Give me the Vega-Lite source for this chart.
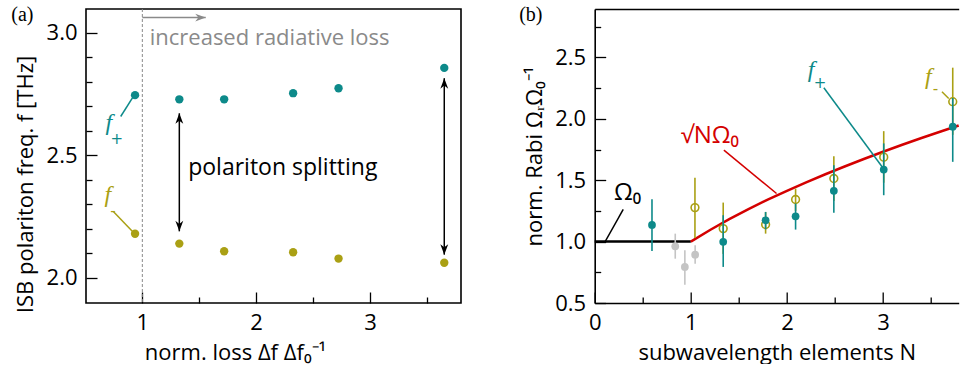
{
  "$schema": "https://vega.github.io/schema/vega-lite/v6.json",
  "padding": {"left": 10, "top": 4, "right": 0, "bottom": 0},
  "bounds": "flush",
  "spacing": 133.7,
  "resolve": {"scale": {"color": "independent"}},
  "config": {
    "font": "Open Sans",
    "view": {"stroke": "black", "strokeWidth": 1.6},
    "axis": {"labelFont": "Open Sans", "titleFont": "Open Sans", "labelFontSize": 22, "titleFontSize": 22, "titleFontWeight": "normal", "labelColor": "black", "titleColor": "black", "tickColor": "black", "tickWidth": 1.3, "grid": false, "domain": false, "labelFlush": false, "labelOverlap": false}
  },
  "datasets": {
    "a_pts": [
      {"loss": 0.936, "f": 2.745, "branch": "plus"},
      {"loss": 1.325, "f": 2.728, "branch": "plus"},
      {"loss": 1.719, "f": 2.728, "branch": "plus"},
      {"loss": 2.325, "f": 2.753, "branch": "plus"},
      {"loss": 2.724, "f": 2.773, "branch": "plus"},
      {"loss": 3.653, "f": 2.856, "branch": "plus"},
      {"loss": 0.936, "f": 2.18, "branch": "minus"},
      {"loss": 1.325, "f": 2.14, "branch": "minus"},
      {"loss": 1.719, "f": 2.109, "branch": "minus"},
      {"loss": 2.325, "f": 2.105, "branch": "minus"},
      {"loss": 2.724, "f": 2.079, "branch": "minus"},
      {"loss": 3.653, "f": 2.062, "branch": "minus"}
    ],
    "a_split": [
      {"loss": 1.325, "top": 2.671, "bottom": 2.19},
      {"loss": 3.653, "top": 2.814, "bottom": 2.095}
    ],
    "a_lossarrow": [{"x1": 1.0, "x2": 1.557, "y": 3.061}],
    "a_leaders": [
      {"x1": 0.81, "y1": 2.658, "x2": 0.927, "y2": 2.744, "branch": "plus"},
      {"x1": 0.745, "y1": 2.271, "x2": 0.918, "y2": 2.187, "branch": "minus"}
    ],
    "a_flabels": [
      {"x": 0.705, "y": 2.63, "t": "f", "branch": "plus"},
      {"x": 0.697, "y": 2.34, "t": "f", "branch": "minus"}
    ],
    "a_fsubs": [
      {"x": 0.775, "y": 2.566, "t": "+", "branch": "plus"},
      {"x": 0.742, "y": 2.272, "t": "-", "branch": "minus"}
    ],
    "a_gray": [{"x": 1.065, "y": 2.977, "t": "increased radiative loss"}],
    "a_black": [{"x": 1.403, "y": 2.448, "t": "polariton splitting"}],
    "a_tag": [{"x": -0.054, "y": 3.07, "t": "(a)"}],
    "a_dash": [{"loss": 1.0}],
    "b_pts": [
      {"N": 0.838, "v": 0.962, "lo": 0.861, "hi": 1.065, "branch": "gray"},
      {"N": 0.938, "v": 0.794, "lo": 0.649, "hi": 0.929, "branch": "gray"},
      {"N": 1.045, "v": 0.894, "lo": 0.82, "hi": 0.97, "branch": "gray"},
      {"N": 1.043, "v": 1.277, "lo": 1.03, "hi": 1.52, "branch": "minus"},
      {"N": 1.337, "v": 1.106, "lo": 0.9, "hi": 1.318, "branch": "minus"},
      {"N": 1.778, "v": 1.139, "lo": 1.065, "hi": 1.24, "branch": "minus"},
      {"N": 2.09, "v": 1.343, "lo": 1.25, "hi": 1.432, "branch": "minus"},
      {"N": 2.488, "v": 1.514, "lo": 1.33, "hi": 1.696, "branch": "minus"},
      {"N": 3.007, "v": 1.688, "lo": 1.48, "hi": 1.9, "branch": "minus"},
      {"N": 3.725, "v": 2.14, "lo": 1.87, "hi": 2.417, "branch": "minus"},
      {"N": 0.596, "v": 1.136, "lo": 0.924, "hi": 1.345, "branch": "plus"},
      {"N": 1.337, "v": 0.998, "lo": 0.794, "hi": 1.215, "branch": "plus"},
      {"N": 1.778, "v": 1.174, "lo": 1.1, "hi": 1.242, "branch": "plus"},
      {"N": 2.09, "v": 1.206, "lo": 1.098, "hi": 1.31, "branch": "plus"},
      {"N": 2.488, "v": 1.414, "lo": 1.236, "hi": 1.622, "branch": "plus"},
      {"N": 3.007, "v": 1.587, "lo": 1.378, "hi": 1.8, "branch": "plus"},
      {"N": 3.725, "v": 1.936, "lo": 1.65, "hi": 2.17, "branch": "plus"}
    ],
    "b_flat": [{"N": 0, "v": 1.0}, {"N": 1, "v": 1.0}],
    "b_sqrt": [
      {"N": 1.0, "v": 1.0}, {"N": 1.2, "v": 1.095}, {"N": 1.4, "v": 1.183}, {"N": 1.6, "v": 1.265},
      {"N": 1.8, "v": 1.342}, {"N": 2.0, "v": 1.414}, {"N": 2.2, "v": 1.483}, {"N": 2.4, "v": 1.549},
      {"N": 2.6, "v": 1.612}, {"N": 2.8, "v": 1.673}, {"N": 3.0, "v": 1.732}, {"N": 3.2, "v": 1.789},
      {"N": 3.4, "v": 1.844}, {"N": 3.6, "v": 1.897}, {"N": 3.787, "v": 1.946}
    ],
    "b_leaders": [
      {"x1": 0.297, "y1": 1.263, "x2": 0.107, "y2": 0.997, "branch": "black"},
      {"x1": 1.344, "y1": 1.745, "x2": 1.892, "y2": 1.392, "branch": "red"},
      {"x1": 2.384, "y1": 2.254, "x2": 2.99, "y2": 1.61, "branch": "plus"},
      {"x1": 3.613, "y1": 2.221, "x2": 3.683, "y2": 2.166, "branch": "minus"}
    ],
    "b_flabels": [
      {"x": 2.25, "y": 2.395, "t": "f", "branch": "plus"},
      {"x": 3.472, "y": 2.342, "t": "f", "branch": "minus"}
    ],
    "b_fsubs": [
      {"x": 2.345, "y": 2.292, "t": "+", "branch": "plus"},
      {"x": 3.545, "y": 2.24, "t": "-", "branch": "minus"}
    ],
    "b_math": [
      {"x": 0.2, "y": 1.4, "t": "Ω₀", "branch": "black"},
      {"x": 0.894, "y": 1.86, "t": "√NΩ₀", "branch": "red"}
    ],
    "b_tag": [{"x": -0.665, "y": 2.843, "t": "(b)"}]
  },
  "hconcat": [
    {
      "width": 375,
      "height": 294,
      "view": {"stroke": "black", "strokeWidth": 1.6},
      "resolve": {"axis": {"x": "independent", "y": "independent"}},
      "layer": [
        {
          "data": {"name": "a_dash"},
          "mark": {"type": "rule", "color": "#8a8a8a", "strokeDash": [3, 2], "strokeWidth": 1},
          "encoding": {
            "x": {"field": "loss", "type": "quantitative", "scale": {"domain": [0.505, 3.8], "nice": false, "zero": false}, "axis": null}
          }
        },
        {
          "data": {"name": "a_pts"},
          "mark": {"type": "point", "filled": true, "size": 70, "opacity": 1},
          "encoding": {
            "x": {"field": "loss", "type": "quantitative", "scale": {"domain": [0.505, 3.8], "nice": false, "zero": false},
              "axis": {"orient": "bottom", "values": [1, 2, 3], "tickSize": -11, "labelPadding": 20, "title": "norm. loss Δf Δf₀⁻¹", "titlePadding": 9, "titleX": 149}},
            "y": {"field": "f", "type": "quantitative", "scale": {"domain": [1.898, 3.096], "nice": false, "zero": false},
              "axis": {"orient": "left", "values": [2, 2.5, 3], "format": ".1f", "tickSize": -11, "labelPadding": 20, "title": "ISB polariton freq. f [THz]", "titlePadding": 9, "titleY": 175}},
            "color": {"field": "branch", "type": "nominal", "scale": {"domain": ["plus", "minus"], "range": ["#0d8a8a", "#aaa014"]}, "legend": null}
          }
        },
        {
          "data": {"name": "a_split"},
          "mark": {"type": "rule", "color": "black", "strokeWidth": 1.5},
          "encoding": {
            "x": {"field": "loss", "type": "quantitative", "scale": {"domain": [0.505, 3.8], "nice": false, "zero": false},
              "axis": {"orient": "bottom", "values": [1.5, 2.5, 3.5], "tickSize": -6, "labels": false, "title": null}},
            "y": {"field": "top", "type": "quantitative", "scale": {"domain": [1.898, 3.096], "nice": false, "zero": false},
              "axis": {"orient": "left", "values": [2.1, 2.2, 2.3, 2.4, 2.6, 2.7, 2.8, 2.9], "tickSize": -6, "labels": false, "title": null}},
            "y2": {"field": "bottom"}
          }
        },
        {
          "data": {"name": "a_split"},
          "mark": {"type": "point", "filled": true, "opacity": 1, "color": "black", "size": 110, "shape": "M0,0L-0.75,2L0,1.4L0.75,2Z"},
          "encoding": {
            "x": {"field": "loss", "type": "quantitative", "scale": {"domain": [0.505, 3.8], "nice": false, "zero": false}, "axis": null},
            "y": {"field": "top", "type": "quantitative", "scale": {"domain": [1.898, 3.096], "nice": false, "zero": false}, "axis": null}
          }
        },
        {
          "data": {"name": "a_split"},
          "mark": {"type": "point", "filled": true, "opacity": 1, "color": "black", "size": 110, "shape": "M0,0L-0.75,-2L0,-1.4L0.75,-2Z"},
          "encoding": {
            "x": {"field": "loss", "type": "quantitative", "scale": {"domain": [0.505, 3.8], "nice": false, "zero": false}, "axis": null},
            "y": {"field": "bottom", "type": "quantitative", "scale": {"domain": [1.898, 3.096], "nice": false, "zero": false}, "axis": null}
          }
        },
        {
          "data": {"name": "a_lossarrow"},
          "mark": {"type": "rule", "color": "#8a8a8a", "strokeWidth": 1.5},
          "encoding": {
            "x": {"field": "x1", "type": "quantitative", "scale": {"domain": [0.505, 3.8], "nice": false, "zero": false}, "axis": null},
            "x2": {"field": "x2"},
            "y": {"field": "y", "type": "quantitative", "scale": {"domain": [1.898, 3.096], "nice": false, "zero": false}, "axis": null}
          }
        },
        {
          "data": {"name": "a_lossarrow"},
          "mark": {"type": "point", "filled": true, "opacity": 1, "color": "#8a8a8a", "size": 110, "shape": "M0,0L-2,-0.75L-1.4,0L-2,0.75Z"},
          "encoding": {
            "x": {"field": "x2", "type": "quantitative", "scale": {"domain": [0.505, 3.8], "nice": false, "zero": false}, "axis": null},
            "y": {"field": "y", "type": "quantitative", "scale": {"domain": [1.898, 3.096], "nice": false, "zero": false}, "axis": null}
          }
        },
        {
          "data": {"name": "a_leaders"},
          "mark": {"type": "rule", "strokeWidth": 1.5},
          "encoding": {
            "x": {"field": "x1", "type": "quantitative", "scale": {"domain": [0.505, 3.8], "nice": false, "zero": false}, "axis": null},
            "x2": {"field": "x2"},
            "y": {"field": "y1", "type": "quantitative", "scale": {"domain": [1.898, 3.096], "nice": false, "zero": false}, "axis": null},
            "y2": {"field": "y2"},
            "color": {"field": "branch", "type": "nominal", "scale": {"domain": ["plus", "minus"], "range": ["#0d8a8a", "#aaa014"]}, "legend": null}
          }
        },
        {
          "data": {"name": "a_flabels"},
          "mark": {"type": "text", "font": "Liberation Serif", "fontStyle": "italic", "fontSize": 24, "align": "center", "baseline": "middle"},
          "encoding": {
            "x": {"field": "x", "type": "quantitative", "scale": {"domain": [0.505, 3.8], "nice": false, "zero": false}, "axis": null},
            "y": {"field": "y", "type": "quantitative", "scale": {"domain": [1.898, 3.096], "nice": false, "zero": false}, "axis": null},
            "text": {"field": "t"},
            "color": {"field": "branch", "type": "nominal", "scale": {"domain": ["plus", "minus"], "range": ["#0d8a8a", "#aaa014"]}, "legend": null}
          }
        },
        {
          "data": {"name": "a_fsubs"},
          "mark": {"type": "text", "font": "DejaVu Sans", "fontSize": 15, "align": "center", "baseline": "middle"},
          "encoding": {
            "x": {"field": "x", "type": "quantitative", "scale": {"domain": [0.505, 3.8], "nice": false, "zero": false}, "axis": null},
            "y": {"field": "y", "type": "quantitative", "scale": {"domain": [1.898, 3.096], "nice": false, "zero": false}, "axis": null},
            "text": {"field": "t"},
            "color": {"field": "branch", "type": "nominal", "scale": {"domain": ["plus", "minus"], "range": ["#0d8a8a", "#aaa014"]}, "legend": null}
          }
        },
        {
          "data": {"name": "a_gray"},
          "mark": {"type": "text", "fontSize": 22, "align": "left", "baseline": "middle", "color": "#8a8a8a"},
          "encoding": {
            "x": {"field": "x", "type": "quantitative", "scale": {"domain": [0.505, 3.8], "nice": false, "zero": false}, "axis": null},
            "y": {"field": "y", "type": "quantitative", "scale": {"domain": [1.898, 3.096], "nice": false, "zero": false}, "axis": null},
            "text": {"field": "t"}
          }
        },
        {
          "data": {"name": "a_black"},
          "mark": {"type": "text", "fontSize": 23, "align": "left", "baseline": "middle", "color": "black"},
          "encoding": {
            "x": {"field": "x", "type": "quantitative", "scale": {"domain": [0.505, 3.8], "nice": false, "zero": false}, "axis": null},
            "y": {"field": "y", "type": "quantitative", "scale": {"domain": [1.898, 3.096], "nice": false, "zero": false}, "axis": null},
            "text": {"field": "t"}
          }
        },
        {
          "data": {"name": "a_tag"},
          "mark": {"type": "text", "font": "Liberation Serif", "fontSize": 20, "align": "center", "baseline": "middle", "color": "black"},
          "encoding": {
            "x": {"field": "x", "type": "quantitative", "scale": {"domain": [0.505, 3.8], "nice": false, "zero": false}, "axis": null},
            "y": {"field": "y", "type": "quantitative", "scale": {"domain": [1.898, 3.096], "nice": false, "zero": false}, "axis": null},
            "text": {"field": "t"}
          }
        }
      ]
    },
    {
      "width": 364,
      "height": 294,
      "view": {"stroke": null},
      "resolve": {"axis": {"x": "independent", "y": "independent"}},
      "layer": [
        {
          "data": {"name": "b_flat"},
          "mark": {"type": "line", "color": "black", "strokeWidth": 2.5},
          "encoding": {
            "x": {"field": "N", "type": "quantitative", "scale": {"domain": [0, 3.787], "nice": false, "zero": false},
              "axis": {"orient": "top", "domain": true, "domainColor": "black", "domainWidth": 1.6, "ticks": false, "labels": false, "title": null}},
            "y": {"field": "v", "type": "quantitative", "scale": {"domain": [0.5, 2.895], "nice": false, "zero": false}, "axis": null}
          }
        },
        {
          "data": {"name": "b_sqrt"},
          "mark": {"type": "line", "color": "#d40000", "strokeWidth": 2.5},
          "encoding": {
            "x": {"field": "N", "type": "quantitative", "scale": {"domain": [0, 3.787], "nice": false, "zero": false},
              "axis": {"orient": "bottom", "values": [0.5, 1.5, 2.5, 3.5], "tickSize": -6, "labels": false, "title": null}},
            "y": {"field": "v", "type": "quantitative", "scale": {"domain": [0.5, 2.895], "nice": false, "zero": false},
              "axis": {"orient": "left", "values": [0.75, 1.25, 1.75, 2.25, 2.75], "tickSize": -6, "labels": false, "title": null}}
          }
        },
        {
          "data": {"name": "b_leaders"},
          "mark": {"type": "rule", "strokeWidth": 1.5},
          "encoding": {
            "x": {"field": "x1", "type": "quantitative", "scale": {"domain": [0, 3.787], "nice": false, "zero": false}, "axis": null},
            "x2": {"field": "x2"},
            "y": {"field": "y1", "type": "quantitative", "scale": {"domain": [0.5, 2.895], "nice": false, "zero": false}, "axis": null},
            "y2": {"field": "y2"},
            "color": {"field": "branch", "type": "nominal", "scale": {"domain": ["plus", "minus", "gray", "black", "red"], "range": ["#0d8a8a", "#aaa014", "#c4c4c4", "#000000", "#d40000"]}, "legend": null}
          }
        },
        {
          "data": {"name": "b_pts"},
          "transform": [{"filter": "datum.branch !== 'plus'"}],
          "mark": {"type": "rule", "strokeWidth": 1.6},
          "encoding": {
            "x": {"field": "N", "type": "quantitative", "scale": {"domain": [0, 3.787], "nice": false, "zero": false}, "axis": null},
            "y": {"field": "lo", "type": "quantitative", "scale": {"domain": [0.5, 2.895], "nice": false, "zero": false}, "axis": null},
            "y2": {"field": "hi"},
            "color": {"field": "branch", "type": "nominal", "scale": {"domain": ["plus", "minus", "gray", "black", "red"], "range": ["#0d8a8a", "#aaa014", "#c4c4c4", "#000000", "#d40000"]}, "legend": null}
          }
        },
        {
          "data": {"name": "b_pts"},
          "transform": [{"filter": "datum.branch === 'gray'"}],
          "mark": {"type": "point", "filled": true, "opacity": 1, "size": 60},
          "encoding": {
            "x": {"field": "N", "type": "quantitative", "scale": {"domain": [0, 3.787], "nice": false, "zero": false}, "axis": null},
            "y": {"field": "v", "type": "quantitative", "scale": {"domain": [0.5, 2.895], "nice": false, "zero": false}, "axis": null},
            "color": {"field": "branch", "type": "nominal", "scale": {"domain": ["plus", "minus", "gray", "black", "red"], "range": ["#0d8a8a", "#aaa014", "#c4c4c4", "#000000", "#d40000"]}, "legend": null}
          }
        },
        {
          "data": {"name": "b_pts"},
          "transform": [{"filter": "datum.branch === 'minus'"}],
          "mark": {"type": "point", "filled": false, "opacity": 1, "size": 60, "strokeWidth": 1.6},
          "encoding": {
            "x": {"field": "N", "type": "quantitative", "scale": {"domain": [0, 3.787], "nice": false, "zero": false}, "axis": null},
            "y": {"field": "v", "type": "quantitative", "scale": {"domain": [0.5, 2.895], "nice": false, "zero": false}, "axis": null},
            "color": {"field": "branch", "type": "nominal", "scale": {"domain": ["plus", "minus", "gray", "black", "red"], "range": ["#0d8a8a", "#aaa014", "#c4c4c4", "#000000", "#d40000"]}, "legend": null}
          }
        },
        {
          "data": {"name": "b_pts"},
          "transform": [{"filter": "datum.branch === 'plus'"}],
          "mark": {"type": "rule", "strokeWidth": 1.6},
          "encoding": {
            "x": {"field": "N", "type": "quantitative", "scale": {"domain": [0, 3.787], "nice": false, "zero": false}, "axis": null},
            "y": {"field": "lo", "type": "quantitative", "scale": {"domain": [0.5, 2.895], "nice": false, "zero": false}, "axis": null},
            "y2": {"field": "hi"},
            "color": {"field": "branch", "type": "nominal", "scale": {"domain": ["plus", "minus", "gray", "black", "red"], "range": ["#0d8a8a", "#aaa014", "#c4c4c4", "#000000", "#d40000"]}, "legend": null}
          }
        },
        {
          "data": {"name": "b_pts"},
          "transform": [{"filter": "datum.branch === 'plus'"}],
          "mark": {"type": "point", "filled": true, "opacity": 1, "size": 60},
          "encoding": {
            "x": {"field": "N", "type": "quantitative", "scale": {"domain": [0, 3.787], "nice": false, "zero": false},
              "axis": {"orient": "bottom", "values": [0, 1, 2, 3], "tickSize": -11, "labelPadding": 20, "domain": true, "domainColor": "black", "domainWidth": 1.6, "title": "subwavelength elements N", "titlePadding": 9}},
            "y": {"field": "v", "type": "quantitative", "scale": {"domain": [0.5, 2.895], "nice": false, "zero": false},
              "axis": {"orient": "left", "values": [0.5, 1, 1.5, 2, 2.5], "format": ".1f", "tickSize": -11, "labelPadding": 20, "domain": true, "domainColor": "black", "domainWidth": 1.6, "title": "norm. Rabi ΩᵣΩ₀⁻¹", "titlePadding": 8, "titleY": 147}},
            "color": {"field": "branch", "type": "nominal", "scale": {"domain": ["plus", "minus", "gray", "black", "red"], "range": ["#0d8a8a", "#aaa014", "#c4c4c4", "#000000", "#d40000"]}, "legend": null}
          }
        },
        {
          "data": {"name": "b_flabels"},
          "mark": {"type": "text", "font": "Liberation Serif", "fontStyle": "italic", "fontSize": 24, "align": "center", "baseline": "middle"},
          "encoding": {
            "x": {"field": "x", "type": "quantitative", "scale": {"domain": [0, 3.787], "nice": false, "zero": false}, "axis": null},
            "y": {"field": "y", "type": "quantitative", "scale": {"domain": [0.5, 2.895], "nice": false, "zero": false}, "axis": null},
            "text": {"field": "t"},
            "color": {"field": "branch", "type": "nominal", "scale": {"domain": ["plus", "minus", "gray", "black", "red"], "range": ["#0d8a8a", "#aaa014", "#c4c4c4", "#000000", "#d40000"]}, "legend": null}
          }
        },
        {
          "data": {"name": "b_fsubs"},
          "mark": {"type": "text", "font": "DejaVu Sans", "fontSize": 15, "align": "center", "baseline": "middle"},
          "encoding": {
            "x": {"field": "x", "type": "quantitative", "scale": {"domain": [0, 3.787], "nice": false, "zero": false}, "axis": null},
            "y": {"field": "y", "type": "quantitative", "scale": {"domain": [0.5, 2.895], "nice": false, "zero": false}, "axis": null},
            "text": {"field": "t"},
            "color": {"field": "branch", "type": "nominal", "scale": {"domain": ["plus", "minus", "gray", "black", "red"], "range": ["#0d8a8a", "#aaa014", "#c4c4c4", "#000000", "#d40000"]}, "legend": null}
          }
        },
        {
          "data": {"name": "b_math"},
          "mark": {"type": "text", "fontSize": 24, "align": "left", "baseline": "middle"},
          "encoding": {
            "x": {"field": "x", "type": "quantitative", "scale": {"domain": [0, 3.787], "nice": false, "zero": false}, "axis": null},
            "y": {"field": "y", "type": "quantitative", "scale": {"domain": [0.5, 2.895], "nice": false, "zero": false}, "axis": null},
            "text": {"field": "t"},
            "color": {"field": "branch", "type": "nominal", "scale": {"domain": ["plus", "minus", "gray", "black", "red"], "range": ["#0d8a8a", "#aaa014", "#c4c4c4", "#000000", "#d40000"]}, "legend": null}
          }
        },
        {
          "data": {"name": "b_tag"},
          "mark": {"type": "text", "font": "Liberation Serif", "fontSize": 20, "align": "center", "baseline": "middle", "color": "black"},
          "encoding": {
            "x": {"field": "x", "type": "quantitative", "scale": {"domain": [0, 3.787], "nice": false, "zero": false}, "axis": null},
            "y": {"field": "y", "type": "quantitative", "scale": {"domain": [0.5, 2.895], "nice": false, "zero": false}, "axis": null},
            "text": {"field": "t"}
          }
        }
      ]
    }
  ]
}
